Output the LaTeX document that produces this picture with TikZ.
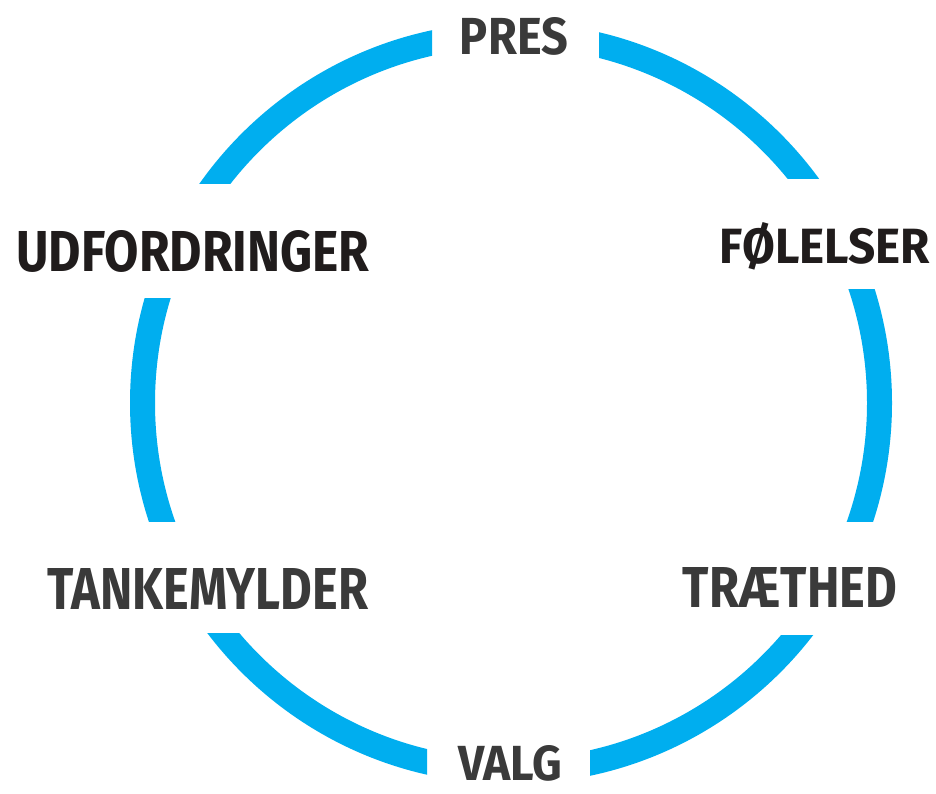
\documentclass[tikz,border=0pt]{standalone}
\usepackage{fontspec}
\setmainfont{Fira Sans}
\definecolor{ringblue}{RGB}{0,174,239}
\definecolor{ink}{RGB}{58,58,58}
\definecolor{inkdark}{RGB}{32,28,28}
% label text stretched to a given width and cap height
\newcommand{\fitlabel}[3]{\resizebox{#1pt}{#2pt}{#3}}
\begin{document}
\begin{tikzpicture}[x=1pt,y=-1pt,
  ring/.style={draw=ringblue, line width=25pt},
  lbl/.style={inner sep=0pt, text=ink, font=\bfseries},
  lbldark/.style={lbl, text=inkdark}]
\useasboundingbox (0,0) rectangle (936,793);
\coordinate (c) at (511,403);

% ring pieces, each cut straight by its own clip window
\begin{scope}\clip (0,0) rectangle (432,183);     \draw[ring] (c) circle (368.5);\end{scope}
\begin{scope}\clip (599,0) rectangle (936,178);   \draw[ring] (c) circle (368.5);\end{scope}
\begin{scope}\clip (511,289) rectangle (936,521); \draw[ring] (c) circle (368.5);\end{scope}
\begin{scope}\clip (590,635) rectangle (936,793); \draw[ring] (c) circle (368.5);\end{scope}
\begin{scope}\clip (0,633) rectangle (427,793);   \draw[ring] (c) circle (368.5);\end{scope}
\begin{scope}\clip (0,298) rectangle (511,521);   \draw[ring] (c) circle (368.5);\end{scope}

% labels in the gaps
\node[lbl]     (pres)   at (514,36)  {\fitlabel{108}{37}{PRES}};
\node[lbldark] (folel)  at (825,246) {\fitlabel{210}{41}{FØLELSER}};
\node[lbl]     (traet)  at (790,587) {\fitlabel{214}{40}{TRÆTHED}};
\node[lbl]     (valg)   at (510,763) {\fitlabel{104}{35}{VALG}};
\node[lbl]     (tanke)  at (208,589) {\fitlabel{320}{41}{TANKEMYLDER}};
\node[lbldark] (udford) at (193,251) {\fitlabel{353}{41}{UDFORDRINGER}};
\end{tikzpicture}
\end{document}
